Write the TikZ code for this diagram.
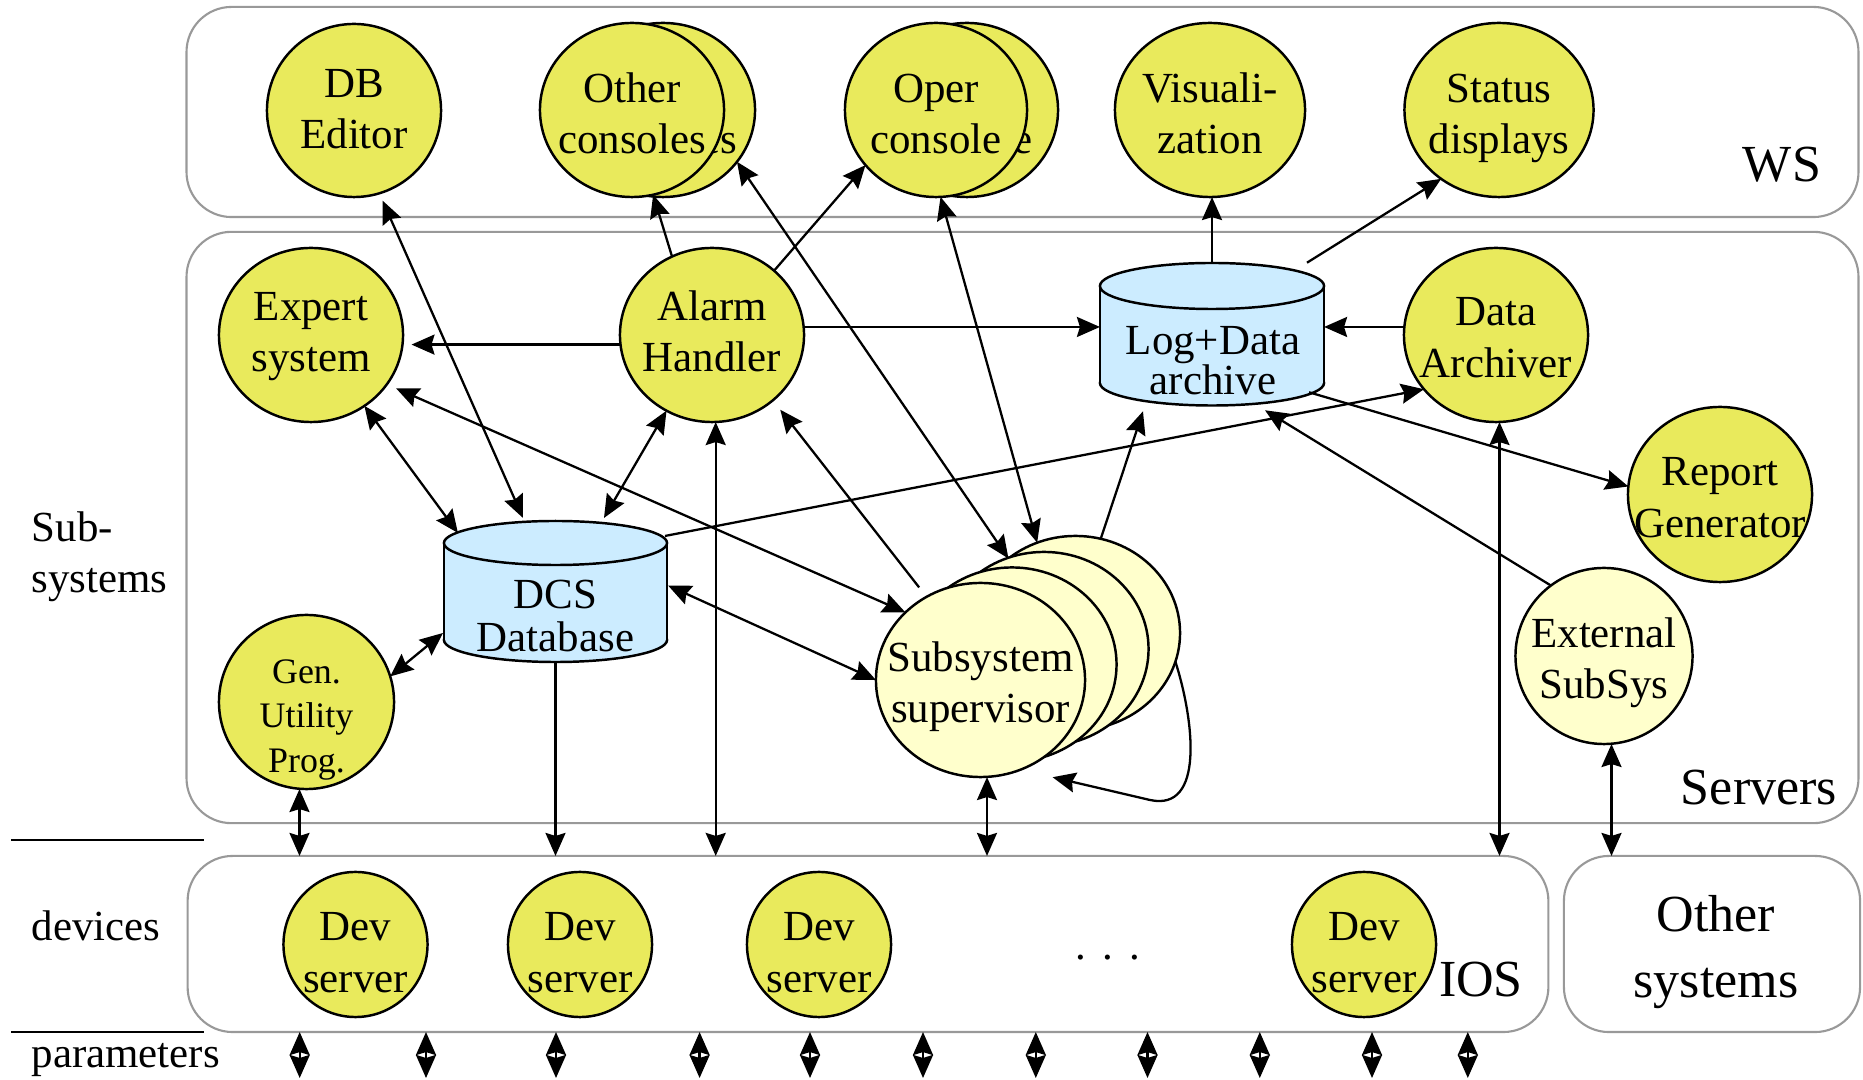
\documentclass[tikz,border=0pt]{standalone}
\usepackage{fontspec}
\setmainfont{Liberation Serif}
\usetikzlibrary{shapes.geometric,arrows.meta,calc}
\definecolor{yel}{RGB}{233,234,92}
\definecolor{lyel}{RGB}{255,255,204}
\definecolor{lblue}{RGB}{204,236,255}
\definecolor{boxgray}{RGB}{153,153,153}
\newcommand{\nodefont}{\fontsize{12.2pt}{14.6pt}\selectfont}
\newcommand{\bigfont}{\fontsize{14.8pt}{18.9pt}\selectfont}
\newcommand{\gufont}{\fontsize{10.2pt}{12.7pt}\selectfont}
\newcommand{\twol}[2]{#1\strut\\#2\strut}
\begin{document}
\begin{tikzpicture}[x=0.01cm,y=-0.01cm,
  >={Stealth[length=0.23cm,width=0.2cm,inset=0.03cm]},
  every node/.style={font=\nodefont},
  cont/.style={rectangle, draw=boxgray, line width=0.6pt, rounded corners=0.45cm, inner sep=0pt, outer sep=0pt},
  ov/.style 2 args={ellipse, draw=black, line width=0.7pt, inner sep=0pt, outer sep=0pt, minimum width=#1, minimum height=#2},
  txt/.style={align=center, inner sep=0pt, font=\nodefont},
  conn/.style={line width=0.65pt},
  big/.style={font=\bigfont, inner sep=0pt},
  side/.style={font=\nodefont, inner sep=0pt, anchor=west, align=left},
  hold/.style={rectangle, draw=none, inner sep=0pt, outer sep=0pt},
  cylline/.style={line width=0.7pt}
]
\useasboundingbox (0,0) rectangle (1863,1080);

% ---------- containers ----------
\node[cont, minimum width=16.71cm, minimum height=2.10cm] (ws) at (1022.5,112) {};
\node[cont, minimum width=16.71cm, minimum height=5.91cm] (srv) at (1022.5,527.5) {};
\node[cont, minimum width=13.60cm, minimum height=1.76cm] (ios) at (868,944) {};
\node[cont, minimum width=2.96cm, minimum height=1.76cm] (oth) at (1712,944) {};

% separators on the left
\draw[line width=0.8pt] (11,840) -- (204,840);
\draw[line width=0.8pt] (11,1032) -- (204,1032);

% ---------- labels ----------
\node[big, anchor=base] (wsL) at (1782,182) {WS};
\node[big, anchor=base] (srvL) at (1759,805) {Servers};
\node[big, anchor=base] (iosL) at (1481,997) {IOS};
\node[big, align=center] (othL) at (1716,952) {Other\\systems};
\node[side] (subL) at (31,557) {Sub-\\systems};
\node[side] (devL) at (31,926) {devices};
\node[side] (parL) at (31,1060) {parameters};
\node[inner sep=0pt] (dots) at (1108,958) {.\hspace{0.16cm}.\hspace{0.16cm}.};

% ---------- WS nodes ----------
\node[ov={1.74cm}{1.73cm}, fill=yel, label={[txt,yshift=-0.02cm]center:\twol{DB}{Editor}}] (dbe) at (354,110.5) {};
\node[ov={1.84cm}{1.74cm}, fill=yel, label={[txt,yshift=-0.075cm]center:\twol{Other}{consoles}}] (ocb) at (663,110) {};
\node[ov={1.84cm}{1.74cm}, fill=yel, label={[txt,yshift=-0.075cm]center:\twol{Other}{consoles}}] (ocf) at (632,110) {};
\node[ov={1.82cm}{1.74cm}, fill=yel, label={[txt,yshift=-0.075cm]center:\twol{Oper}{console}}] (opb) at (967,110) {};
\node[ov={1.82cm}{1.74cm}, fill=yel, label={[txt,yshift=-0.075cm]center:\twol{Oper}{console}}] (opf) at (936,110) {};
\node[ov={1.90cm}{1.74cm}, fill=yel, label={[txt,yshift=-0.075cm]center:\twol{Visuali-}{zation}}] (vis) at (1210,110) {};
\node[ov={1.89cm}{1.74cm}, fill=yel, label={[txt,yshift=-0.075cm]center:\twol{Status}{displays}}] (sd) at (1499,110) {};

% ---------- server nodes ----------
\node[ov={1.84cm}{1.74cm}, fill=yel, label={[txt,yshift=-0.01cm]center:\twol{Expert}{system}}] (exp) at (311,335) {};
\node[ov={1.84cm}{1.74cm}, fill=yel, label={[txt,yshift=-0.01cm]center:\twol{Alarm}{Handler}}] (alm) at (712,335) {};
\node[ov={1.84cm}{1.74cm}, fill=yel, label={[txt,yshift=-0.064cm]center:\twol{Data}{Archiver}}] (da) at (1496,335) {};
\node[ov={1.84cm}{1.75cm}, fill=yel, label={[txt,yshift=-0.067cm]center:\twol{Report}{Generator}}] (rg) at (1720,494.5) {};
\node[ov={1.75cm}{1.74cm}, fill=yel, label={[txt, font=\gufont, yshift=-0.168cm]center:Gen.\strut\\Utility\strut\\Prog.\strut}] (gu) at (306.5,702) {};
\node[ov={1.77cm}{1.76cm}, fill=lyel, label={[txt,yshift=-0.067cm]center:\twol{External}{SubSys}}] (ext) at (1604,656) {};

\node[ov={2.09cm}{1.94cm}, fill=lyel] (s4) at (1075.5,633) {};
\node[ov={2.09cm}{1.94cm}, fill=lyel] (s3) at (1044,649) {};
\node[ov={2.09cm}{1.94cm}, fill=lyel] (s2) at (1012,664.5) {};
\node[ov={2.09cm}{1.94cm}, fill=lyel, label={[txt,yshift=-0.07cm]center:\twol{Subsystem}{supervisor}}] (sup) at (980.5,680) {};

% DCS Database cylinder
\fill[lblue, draw=black, cylline] (555.5,640) ellipse [x radius=1.115cm, y radius=0.22cm];
\fill[lblue] (444,543) rectangle (667,640);
\draw[cylline] (444,543) -- (444,640) (667,543) -- (667,640);
\filldraw[fill=lblue, draw=black, cylline] (555.5,543) ellipse [x radius=1.115cm, y radius=0.22cm];
\node[hold, minimum width=2.23cm, minimum height=1.41cm] (dcs) at (555.5,591.5) {};
\node[txt, font=\fontsize{12.2pt}{12.5pt}\selectfont] (dcsT) at (555.5,616) {DCS\\Database};

% Log+Data archive cylinder
\fill[lblue, draw=black, cylline] (1212,383) ellipse [x radius=1.12cm, y radius=0.225cm];
\fill[lblue] (1100,286) rectangle (1324,383);
\draw[cylline] (1100,286) -- (1100,383) (1324,286) -- (1324,383);
\filldraw[fill=lblue, draw=black, cylline] (1212,286) ellipse [x radius=1.12cm, y radius=0.23cm];
\node[hold, minimum width=2.24cm, minimum height=1.425cm] (log) at (1212,334) {};
\node[txt, font=\fontsize{12.2pt}{11.4pt}\selectfont] (logT) at (1213,361) {Log+Data\\archive};

% ---------- IOS nodes ----------
\node[ov={1.44cm}{1.45cm}, fill=yel, label={[txt,yshift=-0.117cm]center:\twol{Dev}{server}}] (dev1) at (355.5,944.5) {};
\node[ov={1.44cm}{1.45cm}, fill=yel, label={[txt,yshift=-0.117cm]center:\twol{Dev}{server}}] (dev2) at (580,944.5) {};
\node[ov={1.44cm}{1.45cm}, fill=yel, label={[txt,yshift=-0.117cm]center:\twol{Dev}{server}}] (dev3) at (819,944.5) {};
\node[ov={1.44cm}{1.45cm}, fill=yel, label={[txt,yshift=-0.117cm]center:\twol{Dev}{server}}] (dev4) at (1364,944.5) {};

% ---------- connectors ----------
\draw[conn,->] (alm.117) -- (ocf.-76);
\draw[conn,->] (alm.46) -- (opf.-142);
\draw[conn,<->] (ocb.-35) -- (s4.132);
\draw[conn,<->] (opf.-87.5) -- (s4.113);
\draw[conn,->] (log.north) -- (log.north |- vis.south);
\draw[conn,->] ($(log.north)+(95,0)$) -- (sd.-130);
\draw[conn,->,shorten >=0.09cm] (alm.-174) -- (exp.-6);
\draw[conn,->] (alm.5) -- (alm.5 -| log.west);
\draw[conn,->] (da.175) -- (da.175 -| log.east);
\draw[conn,<->] (exp.-53.5) -- ($(dcs.north west)+(14,12)$);
\draw[conn,<->,shorten <=0.08cm] (dbe.-73.5) -- ($(dcs.north)+(-32.5,-3)$);
\draw[conn,<->] (alm.-121.7) -- ($(dcs.north)+(48.5,-3)$);
\draw[conn,<->,shorten <=0.1cm] (exp.-33.7) -- (sup.138.4);
\draw[conn,<->] ($(dcs.east)+(1,-6)$) -- (sup.west);
\draw[conn,<->] (gu.17.4) -- ($(dcs.west)+(-1,41.5)$);
\draw[conn,->] ($(dcs.north east)+(-2,15)$) -- (da.-143.4);
\draw[conn,->,shorten <=0.12cm,shorten >=0.12cm] (sup.123) -- (alm.-47);
\draw[conn,->] (s4.75.7) -- ($(log.south)+(-69,6)$);
\draw[conn,->] (ext.127.5) -- ($(log.south)+(53,5)$);
\draw[conn,->] ($(log.south east)+(-15,-13)$) -- (rg.175.2);
\draw[conn,->,shorten >=0.33cm] (s4.-16) .. controls (1194,720) and (1205,812) .. (1150,800) -- (sup.-66);

% vertical links between layers
\draw[conn,<->] ([xshift=-0.07cm]gu.south) -- ([xshift=-0.07cm]gu.south |- ios.north);
\draw[conn,->] (dcs.south) -- (dcs.south |- ios.north);
\draw[conn,<->] ([xshift=0.037cm]alm.south) -- ([xshift=0.037cm]alm.south |- ios.north);
\draw[conn,<->] ([xshift=0.065cm]sup.south) -- ([xshift=0.065cm]sup.south |- ios.north);
\draw[conn,<->] ([xshift=0.035cm]da.south) -- ([xshift=0.035cm]da.south |- ios.north);
\draw[conn,<->] ([xshift=0.075cm]ext.south) -- ([xshift=0.075cm]ext.south |- oth.north);

% parameter arrows
\foreach \i/\x in {1/299.7,2/426,3/556,4/699.6,5/810,6/923,7/1035.8,8/1147.5,9/1259.8,10/1372,11/1467.8}{
  \coordinate (p\i) at (\x,1078);
  \draw[conn,<->] (p\i |- ios.south) -- (p\i);
}
\end{tikzpicture}
\end{document}
